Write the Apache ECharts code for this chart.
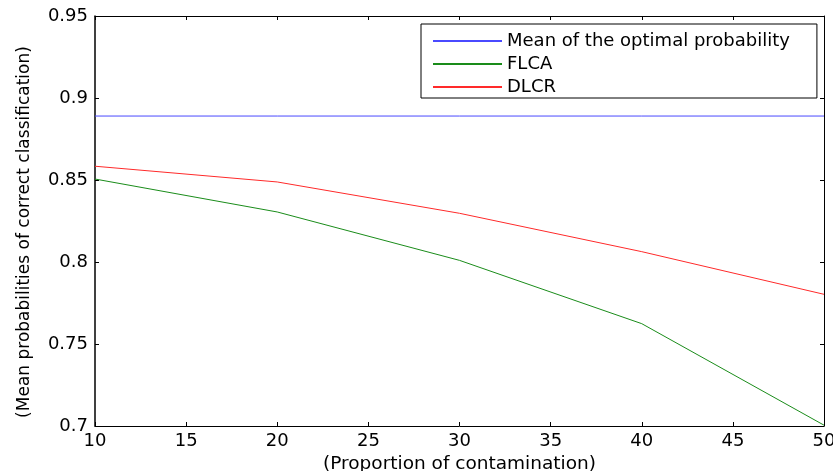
<!DOCTYPE html>
<html>
<head>
<meta charset="utf-8">
<script src="https://cdn.jsdelivr.net/npm/echarts@6/dist/echarts.min.js"></script>
<style>
  html, body { margin: 0; padding: 0; background: #fff; }
  #chart { width: 833px; height: 471px; }
</style>
</head>
<body>
<div id="chart"></div>
<script>
// proportion of contamination (x)
const proportions = [10, 20, 30, 40, 50];
const optimalMean = [0.889, 0.889, 0.889, 0.889, 0.889];
const flca = [0.8506, 0.8305, 0.801, 0.7624, 0.7005];
const dlcr = [0.8584, 0.8488, 0.8297, 0.8063, 0.7803];

const fontFam = '"DejaVu Sans", sans-serif';

function pairs(ys) {
  return proportions.map((x, i) => [x, ys[i]]);
}

const chart = echarts.init(document.getElementById('chart'));

const tickStyle = { show: true, inside: true, length: 4, lineStyle: { color: '#000', width: 1 } };

const options = {
  animation: false,
  grid: { left: 95, right: 9, top: 16, bottom: 45, outerBoundsMode: 'none', containLabel: false },
  legend: {
    orient: 'vertical',
    left: 421,
    top: 24,
    padding: [8, 27, 2, 11],
    itemGap: 5,
    itemWidth: 69,
    itemHeight: 14,
    borderColor: '#000',
    borderWidth: 1,
    backgroundColor: '#fff',
    itemStyle: { opacity: 0 },
    textStyle: { fontFamily: fontFam, fontSize: 18, color: '#000' },
    data: ['Mean of the optimal probability', 'FLCA', 'DLCR']
  },
  xAxis: [
    {
      type: 'value',
      min: 10,
      max: 50,
      interval: 5,
      name: '(Proportion of contamination)',
      nameLocation: 'middle',
      nameGap: 26,
      nameTextStyle: { fontFamily: fontFam, fontSize: 18.5, color: '#000' },
      axisLine: { show: true, onZero: false, lineStyle: { color: '#000', width: 1 } },
      axisTick: tickStyle,
      axisLabel: { fontFamily: fontFam, fontSize: 18, color: '#000', margin: 6 },
      splitLine: { show: false }
    },
    {
      type: 'value',
      position: 'top',
      min: 10,
      max: 50,
      interval: 5,
      axisLine: { show: true, onZero: false, lineStyle: { color: '#000', width: 1 } },
      axisTick: tickStyle,
      axisLabel: { show: false },
      splitLine: { show: false }
    }
  ],
  yAxis: [
    {
      type: 'value',
      min: 0.7,
      max: 0.95,
      interval: 0.05,
      name: '(Mean probabilities of correct classification)',
      nameLocation: 'middle',
      nameGap: 62,
      nameTextStyle: { fontFamily: fontFam, fontSize: 17, color: '#000', padding: [0, 22, 0, 0] },
      axisLine: { show: true, onZero: false, lineStyle: { color: '#000', width: 1.5 } },
      axisTick: tickStyle,
      axisLabel: { fontFamily: fontFam, fontSize: 18, color: '#000', margin: 7 },
      splitLine: { show: false }
    },
    {
      type: 'value',
      position: 'right',
      min: 0.7,
      max: 0.95,
      interval: 0.05,
      axisLine: { show: true, onZero: false, lineStyle: { color: '#000', width: 1 } },
      axisTick: tickStyle,
      axisLabel: { show: false },
      splitLine: { show: false }
    }
  ],
  series: [
    {
      name: 'Mean of the optimal probability',
      type: 'line',
      symbol: 'none',
      lineStyle: { color: '#4a4aff', width: 1 },
      itemStyle: { color: '#4a4aff' },
      data: pairs(optimalMean)
    },
    {
      name: 'FLCA',
      type: 'line',
      symbol: 'none',
      lineStyle: { color: '#1a8c1a', width: 1 },
      itemStyle: { color: '#1a8c1a' },
      data: pairs(flca)
    },
    {
      name: 'DLCR',
      type: 'line',
      symbol: 'none',
      lineStyle: { color: '#ff2a2a', width: 1 },
      itemStyle: { color: '#ff2a2a' },
      data: pairs(dlcr)
    }
  ]
};

chart.setOption(options);
</script>
</body>
</html>
